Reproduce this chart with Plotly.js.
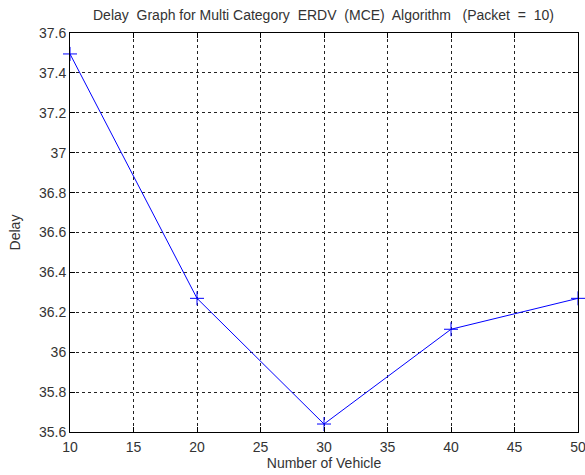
<!DOCTYPE html>
<html>
<head>
<meta charset="utf-8">
<script src="https://cdn.plot.ly/plotly-3.0.1.min.js"></script>
<style>html,body{margin:0;padding:0;background:#fff;}#chart{width:585px;height:475px;}</style>
</head>
<body>
<div id="chart"></div>
<script>
var vehicles = [10, 20, 30, 40, 50];
var delay = [37.495, 36.27, 35.64, 36.115, 36.27];
var xTicks = [10, 15, 20, 25, 30, 35, 40, 45, 50];
var yTicks = [35.6, 35.8, 36, 36.2, 36.4, 36.6, 36.8, 37, 37.2, 37.4, 37.6];
var yTickText = ['35.6', '35.8', '36', '36.2', '36.4', '36.6', '36.8', '37', '37.2', '37.4', '37.6'];

var fontFam = 'Liberation Sans, Arial, sans-serif';
var trace = {
  x: vehicles, y: delay, type: 'scatter', mode: 'lines+markers',
  line: {color: '#0000ff', width: 1},
  marker: {symbol: 'cross-thin-open', size: 10, line: {color: '#0000ff', width: 1}},
  cliponaxis: false
};
var axisCommon = {
  showline: true, linecolor: '#000', linewidth: 1, mirror: 'ticks',
  ticks: 'inside', ticklen: 5, tickcolor: '#000', tickwidth: 1,
  showgrid: true, gridcolor: '#222', gridwidth: 1, griddash: '3px,3px',
  zeroline: false, ticklabeloverflow: 'allow',
  tickfont: {family: fontFam, size: 14, color: '#333'}
};
var layout = {
  width: 585, height: 475,
  margin: {l: 70, r: 7, t: 33, b: 43},
  paper_bgcolor: '#fff', plot_bgcolor: '#fff',
  showlegend: false,
  title: {text: 'Delay  Graph for Multi Category  ERDV  (MCE)  Algorithm   (Packet  =  10)',
    font: {family: fontFam, size: 14, color: '#333'},
    x: 0.553, xanchor: 'center', y: 0.968, yanchor: 'middle'},
  xaxis: Object.assign({}, axisCommon, {
    range: [10, 50], tickvals: xTicks, ticktext: xTicks.map(String), ticklabelstandoff: 2,
    title: {text: 'Number of Vehicle', standoff: 3, font: {family: fontFam, size: 14, color: '#333'}}
  }),
  yaxis: Object.assign({}, axisCommon, {
    range: [35.6, 37.6], tickvals: yTicks, ticktext: yTickText,
    title: {text: 'Delay', standoff: 15, font: {family: fontFam, size: 14, color: '#333'}}
  })
};
Plotly.newPlot('chart', [trace], layout, {displayModeBar: false, staticPlot: true});
</script>
</body>
</html>
